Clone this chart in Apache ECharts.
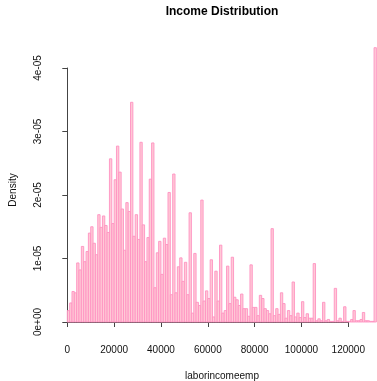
<!DOCTYPE html>
<html>
<head>
<meta charset="utf-8">
<script src="https://cdn.jsdelivr.net/npm/echarts@6/dist/echarts.min.js"></script>
<style>
  html, body {margin: 0; padding: 0; background: #fff;}
  #chart {width: 377px; height: 381px;}
</style>
</head>
<body>
<div id="chart"></div>
<script>
// histogram of laborincomeemp, bins of 1000 starting at 0
const binWidth = 1000
const density = [
  0.18, 0.30, 0.48, 0.46, 0.93, 0.82, 1.19, 0.95, 1.11, 1.40,
  1.50, 1.24, 1.06, 1.69, 1.49, 1.67, 1.52, 1.41, 2.57, 1.55,
  2.24, 2.77, 2.36, 1.78, 1.13, 1.88, 1.74, 3.46, 1.35, 1.69,
  1.30, 2.83, 1.53, 0.95, 1.33, 2.25, 2.82, 0.54, 1.09, 1.27,
  0.75, 1.32, 1.22, 2.04, 0.43, 2.33, 0.46, 0.87, 1.01, 0.64,
  0.94, 0.43, 1.72, 0.14, 1.08, 0.31, 0.26, 1.92, 0.33, 0.49,
  0.37, 0.98, 0.08, 0.80, 0.33, 1.21, 0.14, 0.18, 0.88, 0.29,
  1.02, 0.39, 0.35, 0.26, 0.44, 0.21, 0.21, 0.09, 0.90, 0.23,
  0.23, 0.10, 0.42, 0.37, 0.21, 0.18, 0.13, 1.47, 0.10, 0.21,
  0.12, 0.46, 0.29, 0.06, 0.18, 0.10, 0.63, 0.08, 0.14, 0.07,
  0.32, 0.07, 0.13, 0.06, 0.06, 0.92, 0.02, 0.05, 0.02, 0.31,
  0.02, 0.04, 0.01, 0.01, 0.53, 0.02, 0.06, 0.01, 0.24, 0.01,
  0.01, 0.04, 0.18, 0.02, 0.02, 0.04, 0.15, 0.02, 0.02, 0.01,
  0.01, 4.32
].map(v => v * 1e-5)
const xTickLabels = ['0', '20000', '40000', '60000', '80000', '100000', '120000']
const yTickLabels = ['0e+00', '1e-05', '2e-05', '3e-05', '4e-05']

const font = '"Liberation Sans", Arial, sans-serif'
const bins = density.map((d, i) => [i * binWidth, (i + 1) * binWidth, d])

const myChart = echarts.init(document.getElementById('chart'))
myChart.setOption({
  animation: false,
  backgroundColor: '#fff',
  grid: {left: 67.3, top: 68, width: 281, height: 254},
  xAxis: {
    type: 'value',
    min: 0,
    max: 120000,
    interval: 20000,
    offset: 11.5,
    splitLine: {show: false},
    axisLine: {show: true, lineStyle: {color: '#444', width: 1}},
    axisTick: {show: true, length: 5, lineStyle: {color: '#444'}},
    axisLabel: {
      margin: 12,
      color: '#111',
      fontSize: 10,
      fontFamily: font,
      formatter(val) {
        return xTickLabels[Math.round(val / 20000)]
      }
    }
  },
  yAxis: {
    type: 'value',
    min: 0,
    max: 4e-5,
    interval: 1e-5,
    offset: 13,
    splitLine: {show: false},
    axisLine: {show: true, lineStyle: {color: '#444', width: 1}},
    axisTick: {show: true, length: 5, lineStyle: {color: '#444'}},
    axisLabel: {
      rotate: 90,
      margin: 11,
      align: 'center',
      verticalAlign: 'bottom',
      color: '#111',
      fontSize: 10,
      fontFamily: font,
      formatter(val) {
        return yTickLabels[Math.round(val / 1e-5)]
      }
    }
  },
  graphic: [
    {type: 'text', x: 222, y: 12, style: {text: 'Income Distribution', font: 'bold 12px ' + font, fill: '#000', textAlign: 'center', textVerticalAlign: 'middle'}},
    {type: 'text', x: 222, y: 376, style: {text: 'laborincomeemp', font: '10px ' + font, fill: '#111', textAlign: 'center', textVerticalAlign: 'middle'}},
    {type: 'text', x: 13, y: 190, rotation: Math.PI / 2, style: {text: 'Density', font: '10px ' + font, fill: '#111', textAlign: 'center', textVerticalAlign: 'middle'}}
  ],
  series: [{
    type: 'custom',
    clip: false,
    data: bins,
    renderItem(params, api) {
      const topLeft = api.coord([api.value(0), api.value(2)])
      const bottomRight = api.coord([api.value(1), 0])
      return {
        type: 'rect',
        shape: {
          x: topLeft[0],
          y: topLeft[1],
          width: bottomRight[0] - topLeft[0],
          height: bottomRight[1] - topLeft[1]
        },
        style: {fill: '#FFCAD6', stroke: '#FF92C2', lineWidth: 0.9}
      }
    }
  }]
})
</script>
</body>
</html>
